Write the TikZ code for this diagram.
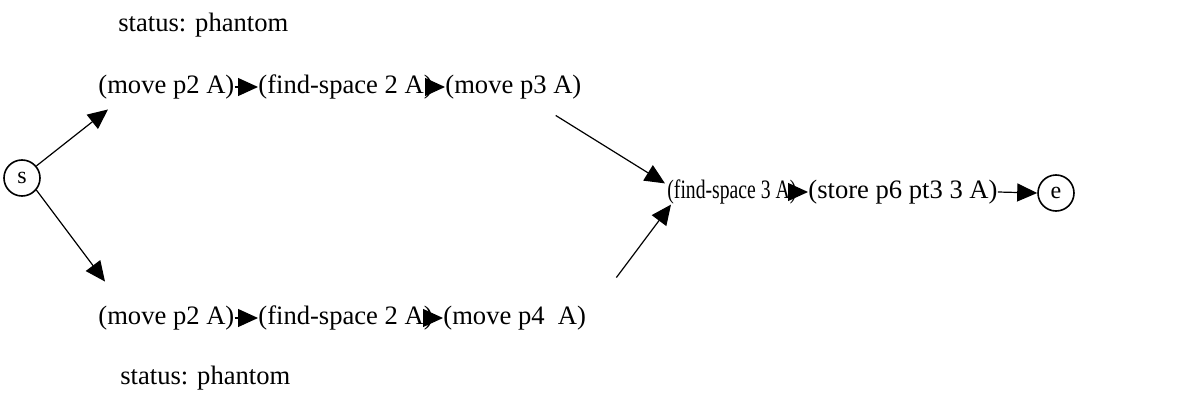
\documentclass[tikz,border=0pt]{standalone}
\usepackage{fontspec}
\setmainfont{Liberation Serif}
\usetikzlibrary{arrows.meta}
\begin{document}
\begin{tikzpicture}[x=0.5pt,y=-0.5pt,
  lbl/.style={inner sep=0pt,anchor=west,font=\fontsize{13.3}{15}\selectfont},
  endpt/.style={draw,circle,minimum size=18pt,inner sep=0pt,line width=0.8pt,font=\fontsize{12}{14}\selectfont},
  arr/.style={-{Triangle[length=10pt,width=9pt]},line width=0.6pt}]
\useasboundingbox (0,0) rectangle (1179,396);
\node[endpt] (s) at (22,178) {s};
\node[endpt] (e) at (1056,193) {e};
\node[lbl] (st1) at (118,25) {status: phantom};
\node[lbl] (a1) at (98,87) {(move p2 A)};
\node[lbl] (a2) at (258,87) {(find-space 2 A)};
\node[lbl] (a3) at (445,87) {(move p3 A)};
\node[lbl] (b1) at (98,318) {(move p2 A)};
\node[lbl] (b2) at (258,318) {(find-space 2 A)};
\node[lbl] (b3) at (443,318) {(move p4\ \ A)};
\node[lbl] (st2) at (120,378) {status: phantom};
\node[lbl] (c1) at (667,192) {\scalebox{0.74}[1]{(find-space 3 A)}};
\node[lbl] (c2) at (808,192) {(store p6 pt3 3 A)};
\draw[arr] (a1.east) -- (a2.west);
\draw[arr] (a2.east) -- (a3.west);
\draw[arr] (b1.east) -- (b2.west);
\draw[arr] (b2.east) -- (b3.west);
\draw[arr] (c1.east) -- (c2.west);
\draw[arr] (c2.east) -- (e.west);
\draw[arr] (s.40) -- ([xshift=5pt,yshift=-5pt]a1.south west);
\draw[arr] (s.-40) -- ([xshift=3.5pt,yshift=12pt]b1.north west);
\draw[arr] ([xshift=-13pt,yshift=-8pt]a3.south east) -- ([xshift=-1pt,yshift=-2pt]c1.north west);
\draw[arr] ([xshift=15pt,yshift=14pt]b3.north east) -- ([xshift=2pt,yshift=0pt]c1.south west);
\end{tikzpicture}
\end{document}
